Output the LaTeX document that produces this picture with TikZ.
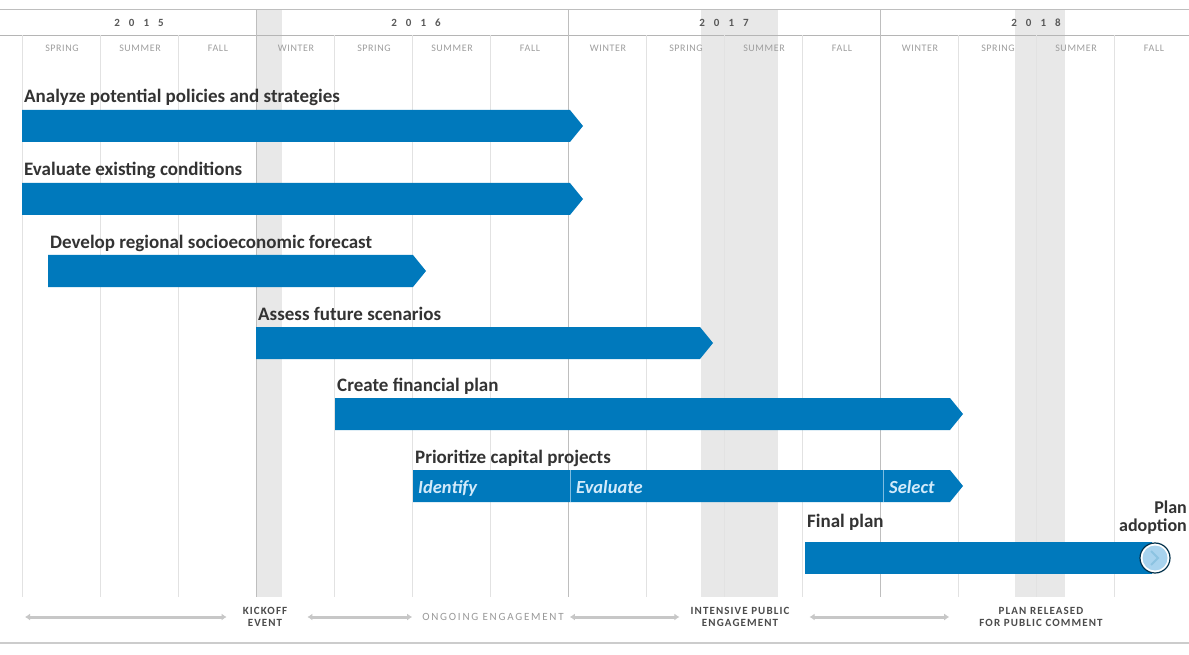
\documentclass[tikz,border=0pt]{standalone}
\usepackage{fontspec}
\setmainfont{Carlito}
\usepackage{xcolor}
\usetikzlibrary{positioning,arrows.meta}

\definecolor{barblue}{RGB}{0,121,188}
\definecolor{textgray}{RGB}{51,51,51}
\definecolor{gridgray}{RGB}{226,226,226}
\definecolor{yeargray}{RGB}{190,190,190}
\definecolor{bandgray}{RGB}{232,232,232}
\definecolor{phaseblue}{RGB}{210,234,250}

\begin{document}
\begin{tikzpicture}[x=1pt,y=-1pt,
	bar/.style={fill=barblue},
	task/.style={anchor=base west, inner sep=0pt, text=textgray,
		font=\bfseries\fontsize{19}{19}\selectfont},
	phase/.style={anchor=base west, inner sep=0pt, text=phaseblue,
		font=\bfseries\itshape\fontsize{18.5}{18.5}\selectfont},
	season/.style={inner sep=0pt, text=black!38,
		font=\fontsize{10}{10}\selectfont\addfontfeature{LetterSpace=6}},
	year/.style={inner sep=0pt, text=black!65, font=\bfseries\fontsize{11}{11}\selectfont},
	milestone/.style={inner sep=0pt, align=center, text=black!70,
		font=\bfseries\fontsize{11}{12.5}\selectfont\addfontfeature{LetterSpace=10}},
	engage/.style={draw=black!22, line width=3pt, {Latex[length=5pt,width=7pt]}-{Latex[length=5pt,width=7pt]}}]
	\useasboundingbox (0,0) rectangle (1189,655);
	\fill[white] (0,0) rectangle (1189,655);

	% Shaded periods
	\fill[bandgray] (256,10) rectangle (282,597);
	\fill[bandgray] (701,10) rectangle (778,597);
	\fill[bandgray] (1015,10) rectangle (1065,597);

	% Header lines
	\draw[yeargray, line width=1pt] (0,10) -- (1189,10);
	\draw[gridgray!80!black, line width=0.8pt] (0,35) -- (1189,35);

	% Season grid
	\foreach \k in {0,...,14} {
		\draw[gridgray, line width=1pt] (22+78*\k,35) -- (22+78*\k,597);
	}
	\foreach \x in {256,568,880} {
		\draw[yeargray, line width=1pt] (\x,10) -- (\x,597);
	}

	% Years and seasons
	\node[year] (y2015) at (139,23) {2\hspace{9pt}0\hspace{9pt}1\hspace{9pt}5};
	\node[year] (y2016) at (416,23) {2\hspace{9pt}0\hspace{9pt}1\hspace{9pt}6};
	\node[year] (y2017) at (724,23) {2\hspace{9pt}0\hspace{9pt}1\hspace{9pt}7};
	\node[year] (y2018) at (1036,23) {2\hspace{9pt}0\hspace{9pt}1\hspace{9pt}8};
	\foreach \k/\s in {0/SPRING,1/SUMMER,2/FALL,3/WINTER,4/SPRING,5/SUMMER,6/FALL,
		7/WINTER,8/SPRING,9/SUMMER,10/FALL,11/WINTER,12/SPRING,13/SUMMER,14/FALL} {
		\node[season] (s\k) at (62+78*\k,48) {\s};
	}

	% Task bars
	\foreach \x/\e/\t/\n/\txt in {
		22/570/110/analyze/Analyze potential policies and strategies,
		22/570/183/existing/Evaluate existing conditions,
		48/413/255/forecast/Develop regional socioeconomic forecast,
		256/700/327/scenarios/Assess future scenarios,
		335/950/398/financial/Create financial plan,
		413/950/470/capital/Prioritize capital projects} {
		\fill[bar] (\x,\t) -- (\e,\t) -- (\e+13,\t+16) -- (\e,\t+32) -- (\x,\t+32) -- cycle;
		\node[task] (\n) at (\x+2,\t-7) {\txt};
	}

	% Phases of the capital projects bar
	\draw[phaseblue!60!barblue, line width=0.8pt] (570,470) -- (570,502);
	\draw[phaseblue!60!barblue, line width=0.8pt] (883,470) -- (883,502);
	\node[phase] (identify) at (418,493) {Identify};
	\node[phase] (evaluate) at (576,493) {Evaluate};
	\node[phase] (select) at (889,493) {Select};

	% Final plan and adoption
	\fill[bar] (805,542) rectangle (1152,574);
	\node[task] (final) at (807,527) {Final plan};
	\draw[black!60!barblue, line width=1.2pt, fill=white] (1155,558) circle (15);
	\fill[phaseblue!80!barblue] (1155,558) circle (12.5);
	\draw[barblue!45, line width=2pt] (1151,551) -- (1158,558) -- (1151,565);
	\node[inner sep=0pt, align=right, text=textgray, font=\bfseries\fontsize{18}{18}\selectfont,
		anchor=base east] (adopt) at (1187,531) {Plan\\adoption};

	% Engagement timeline
	\node[milestone] (kickoff) at (265,617) {KICKOFF\\EVENT};
	\node[milestone, font=\fontsize{11}{11}\selectfont\addfontfeature{LetterSpace=16}, text=black!40] (ongoing) at (493,617) {ONGOING ENGAGEMENT};
	\node[milestone] (intensive) at (740,617) {INTENSIVE PUBLIC\\ENGAGEMENT};
	\node[milestone] (released) at (1041,617) {PLAN RELEASED\\FOR PUBLIC COMMENT};
	\coordinate (start) at (25,617);
	\draw[engage] (start) -- ([xshift=-16pt]kickoff.west);
	\draw[engage] ([xshift=20pt]kickoff.east) -- ([xshift=-10pt]ongoing.west);
	\draw[engage] ([xshift=6pt]ongoing.east) -- ([xshift=-11pt]intensive.west);
	\draw[engage] ([xshift=20pt]intensive.east) -- ([xshift=-30pt]released.west);

	% Bottom rule
	\draw[black!20, line width=1.5pt] (0,643) -- (1189,643);
\end{tikzpicture}
\end{document}
